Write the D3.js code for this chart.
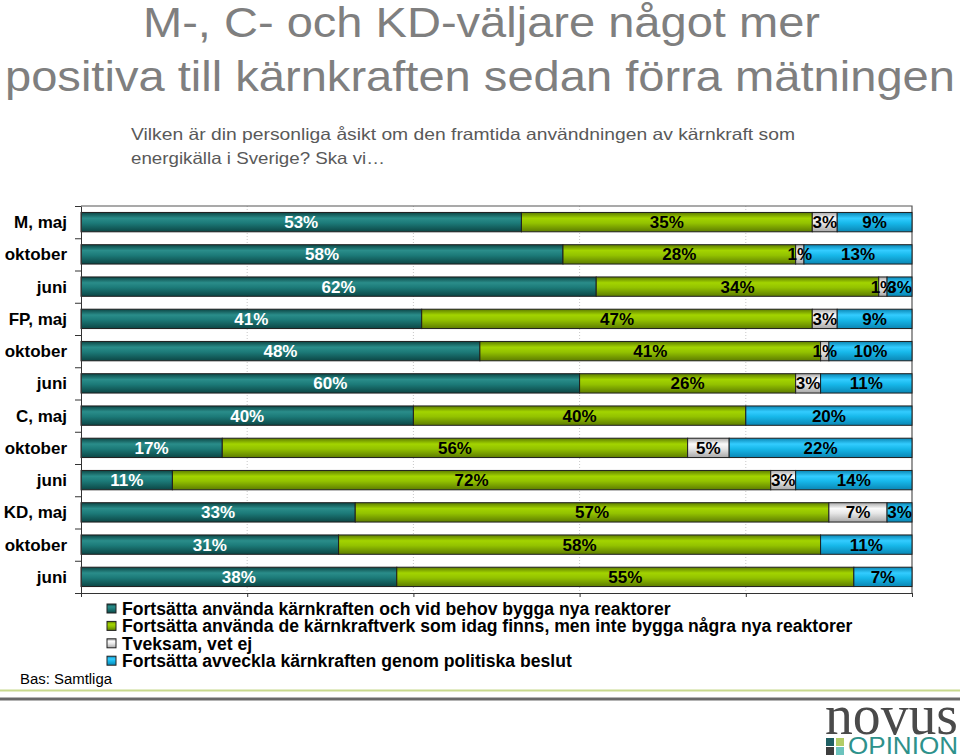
<!DOCTYPE html>
<html>
<head>
<meta charset="utf-8">
<script src="https://cdn.jsdelivr.net/npm/d3@7"></script>
<style>
  html, body { margin: 0; padding: 0; background: #fff; }
  svg { display: block; font-family: "Liberation Sans", Arial, sans-serif; }
</style>
</head>
<body>
<svg id="chart" width="960" height="756"></svg>
<script>
// ---------- data ----------
const categories = ["M, maj","oktober","juni","FP, maj","oktober","juni","C, maj","oktober","juni","KD, maj","oktober","juni"];
const seriesNames = [
  "Fortsätta använda kärnkraften och vid behov bygga nya reaktorer",
  "Fortsätta använda de kärnkraftverk som idag finns, men inte bygga några nya reaktorer",
  "Tveksam, vet ej",
  "Fortsätta avveckla kärnkraften genom politiska beslut"
];
const buildNew = [53, 58, 62, 41, 48, 60, 40, 17, 11, 33, 31, 38];
const keepExisting = [35, 28, 34, 47, 41, 26, 40, 56, 72, 57, 58, 55];
const unsure = [3, 1, 1, 3, 1, 3, 0, 5, 3, 7, 0, 0];
const phaseOut = [9, 13, 3, 9, 10, 11, 20, 22, 14, 3, 11, 7];
const xTicks = [0, 20, 40, 60, 80, 100];
const titleLines = ["M-, C- och KD-väljare något mer", "positiva till kärnkraften sedan förra mätningen"];
const subtitleLines = ["Vilken är din personliga åsikt om den framtida användningen av kärnkraft som", "energikälla i Sverige? Ska vi…"];
const baseText = "Bas: Samtliga";

(function () {
// ---------- styles ----------
const colors = [
  {dark: "#0c4645", mid: "#1c7a78", light: "#2a8d8a", label: "#ffffff"},
  {dark: "#5d7c00", mid: "#93c200", light: "#a3d400", label: "#000000"},
  {dark: "#a8a8a8", mid: "#e6e6e6", light: "#fafafa", label: "#000000"},
  {dark: "#0a86b4", mid: "#17b8ea", light: "#33ccff", label: "#000000"}
];

const svg = d3.select("#chart");
const defs = svg.append("defs");
colors.forEach((c, i) => {
  const g = defs.append("linearGradient").attr("id", "grad" + i)
    .attr("x1", 0).attr("y1", 0).attr("x2", 0).attr("y2", 1);
  g.append("stop").attr("offset", "0%").attr("stop-color", c.dark);
  g.append("stop").attr("offset", "30%").attr("stop-color", c.light);
  g.append("stop").attr("offset", "55%").attr("stop-color", c.mid);
  g.append("stop").attr("offset", "100%").attr("stop-color", c.dark);
});

// ---------- title ----------
svg.append("text").attr("x", 143).attr("y", 37)
  .attr("font-size", 42).attr("fill", "#7f7f7f")
  .attr("textLength", 677).attr("lengthAdjust", "spacingAndGlyphs")
  .text(titleLines[0]);
svg.append("text").attr("x", 5).attr("y", 90.5)
  .attr("font-size", 42).attr("fill", "#7f7f7f")
  .attr("textLength", 950).attr("lengthAdjust", "spacingAndGlyphs")
  .text(titleLines[1]);
svg.append("text").attr("x", 131).attr("y", 140)
  .attr("font-size", 16.5).attr("fill", "#595959")
  .attr("textLength", 664).attr("lengthAdjust", "spacingAndGlyphs")
  .text(subtitleLines[0]);
svg.append("text").attr("x", 131).attr("y", 163.5)
  .attr("font-size", 16.5).attr("fill", "#595959")
  .attr("textLength", 254).attr("lengthAdjust", "spacingAndGlyphs")
  .text(subtitleLines[1]);

// ---------- scales ----------
const pLeft = 81, pRight = 912, pTop = 206, pBottom = 593;
const x = d3.scaleLinear().domain([0, 100]).range([pLeft, pRight]);
const y = d3.scaleBand().domain(d3.range(categories.length)).range([pTop, pBottom])
  .paddingInner(0.4).paddingOuter(0.2);
const yEdge = d3.scaleLinear().domain([0, categories.length]).range([pTop, pBottom]);

// gridlines
svg.append("g").selectAll("line").data(xTicks.slice(1, -1)).join("line")
  .attr("x1", d => x(d)).attr("x2", d => x(d))
  .attr("y1", pTop).attr("y2", pBottom)
  .attr("stroke", "#c8c8c8").attr("stroke-width", 1).attr("stroke-dasharray", "1,2");

// plot frame (top & right)
svg.append("path")
  .attr("d", `M${pLeft},${pTop}H${pRight}V${pBottom}`)
  .attr("fill", "none").attr("stroke", "#555").attr("stroke-width", 1.2);

// ---------- stacked bars ----------
const rows = categories.map((c, i) => ({i, s0: buildNew[i], s1: keepExisting[i], s2: unsure[i], s3: phaseOut[i]}));
const stack = d3.stack().keys(["s0", "s1", "s2", "s3"]);
const stacked = stack(rows);

const layers = svg.append("g").selectAll("g").data(stacked).join("g")
  .attr("fill", (d, k) => `url(#grad${k})`);
layers.selectAll("rect").data(d => d.filter(p => p[1] - p[0] > 0)).join("rect")
  .attr("x", p => x(p[0]))
  .attr("width", p => x(p[1]) - x(p[0]))
  .attr("y", p => y(p.data.i))
  .attr("height", y.bandwidth())
  .attr("stroke", "#1e1e1e").attr("stroke-width", 1);

// value labels
const labelG = svg.append("g");
stacked.forEach((layer, k) => {
  labelG.append("g").selectAll("text").data(layer.filter(p => p[1] - p[0] > 0)).join("text")
    .attr("x", p => (x(p[0]) + x(p[1])) / 2)
    .attr("y", p => y(p.data.i) + y.bandwidth() / 2 + 6)
    .attr("text-anchor", "middle")
    .attr("font-size", 17).attr("font-weight", "bold")
    .attr("fill", colors[k].label)
    .text(p => (p[1] - p[0]) + "%");
});

// ---------- axes ----------
const yAxis = d3.axisLeft(yEdge).tickValues(d3.range(categories.length + 1))
  .tickFormat("").tickSizeInner(6).tickSizeOuter(0);
svg.append("g").attr("transform", `translate(${pLeft},0)`).call(yAxis)
  .call(g => g.selectAll("line,path").attr("stroke", "#333"));

const xAxis = d3.axisBottom(x).tickValues(xTicks).tickFormat("")
  .tickSizeInner(4).tickSizeOuter(0);
svg.append("g").attr("transform", `translate(0,${pBottom})`).call(xAxis)
  .call(g => g.selectAll("line,path").attr("stroke", "#333"));

// category labels
svg.append("g").selectAll("text").data(categories).join("text")
  .attr("x", 67)
  .attr("y", (d, i) => y(i) + y.bandwidth() / 2 + 6)
  .attr("text-anchor", "end")
  .attr("font-size", 17).attr("font-weight", "bold").attr("fill", "#000")
  .text(d => d);

// ---------- legend ----------
const legend = svg.append("g").attr("transform", "translate(107,604)");
const li = legend.selectAll("g").data(seriesNames).join("g")
  .attr("transform", (d, i) => `translate(0,${i * 17.4})`);
li.append("rect").attr("x", 0).attr("y", 0).attr("width", 9).attr("height", 9)
  .attr("fill", (d, i) => `url(#grad${i})`).attr("stroke", "#222").attr("stroke-width", 1);
li.append("text").attr("x", 15).attr("y", 11)
  .attr("font-size", 17.6).attr("font-weight", "bold").attr("fill", "#000")
  .text(d => d);

// base note
svg.append("text").attr("x", 20).attr("y", 683.5)
  .attr("font-size", 14).attr("fill", "#000")
  .attr("textLength", 92).attr("lengthAdjust", "spacingAndGlyphs")
  .text(baseText);

// footer lines
svg.append("line").attr("x1", 0).attr("x2", 960).attr("y1", 690.5).attr("y2", 690.5)
  .attr("stroke", "#c8d98e").attr("stroke-width", 2);
svg.append("line").attr("x1", 0).attr("x2", 960).attr("y1", 699).attr("y2", 699)
  .attr("stroke", "#6a6a6a").attr("stroke-width", 3);

// logo
const logo = svg.append("g");
logo.append("text").attr("x", 825).attr("y", 734)
  .attr("font-family", "'Liberation Serif', 'DejaVu Serif', serif")
  .attr("font-size", 58).attr("fill", "#4a4a4a")
  .attr("textLength", 133).attr("lengthAdjust", "spacingAndGlyphs")
  .text("novus");
const sq = [["#1f5f63", 826, 738], ["#b3cc66", 836, 738], ["#3d3d3d", 826, 747], ["#6cc3bd", 836, 747]];
logo.selectAll("rect").data(sq).join("rect")
  .attr("x", d => d[1]).attr("y", d => d[2]).attr("width", 8).attr("height", 8).attr("fill", d => d[0]);
logo.append("text").attr("x", 848).attr("y", 754)
  .attr("font-size", 23).attr("fill", "#2e918b")
  .attr("textLength", 110).attr("lengthAdjust", "spacingAndGlyphs")
  .text("OPINION");
})();
</script>
</body>
</html>
